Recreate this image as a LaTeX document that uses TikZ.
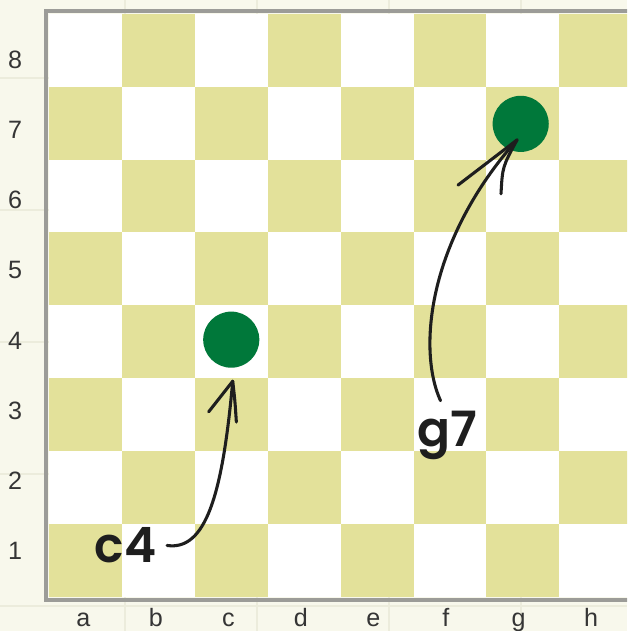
\documentclass[tikz,border=0pt]{standalone}
\usepackage{fontspec}
\setmainfont{Liberation Sans}
\newfontfamily\handfont{Poppins}[BoldFont={Poppins SemiBold}]
\usetikzlibrary{calc}
\definecolor{paper}{HTML}{F8F8EC}
\definecolor{paperline}{HTML}{ECECDC}
\definecolor{darksq}{HTML}{E3E19A}
\definecolor{lightsq}{HTML}{FFFFFF}
\definecolor{rim}{HTML}{9C9C98}
\definecolor{stone}{HTML}{00783A}
\definecolor{ink}{HTML}{1E1E1E}
\tikzset{
  sq/.style={fill=#1,draw=none},
  piece/.style={circle,fill=stone,minimum size=0.77cm,inner sep=0pt},
  coordlbl/.style={font=\fontsize{9.8}{11}\selectfont,text=ink!90,anchor=base,inner sep=0pt},
  hand/.style={font=\handfont\bfseries\fontsize{19}{20}\selectfont,text=ink,inner sep=4pt,anchor=base},
  pen/.style={draw=ink,line width=1.2pt,line cap=round,line join=round},
}

\begin{document}
\begin{tikzpicture}
  \useasboundingbox (-0.672,-0.466) rectangle (7.929,8.189);
  \clip (-0.672,-0.466) rectangle (7.929,8.189);
  \fill[paper] (-0.672,-0.466) rectangle (7.929,8.189);
  % faint paper grid
  \foreach \x in {-0.768,1.043,2.854,4.665,6.476}
    \draw[paperline,line width=0.5pt] (\x,-0.466) -- (\x,8.189);
  \foreach \y in {-0.123,1.688,3.499,5.310,7.121}
    \draw[paperline,line width=0.5pt] (-0.672,\y) -- (7.929,\y);
  % board
  \foreach \i in {0,...,7}
    \foreach \j in {0,...,7}{
      \pgfmathparse{int(mod(\i+\j,2))}
      \ifnum\pgfmathresult=0
        \fill[sq=darksq] (\i,\j) rectangle ++(1,1);
      \else
        \fill[sq=lightsq] (\i,\j) rectangle ++(1,1);
      \fi
    }
  \draw[rim,line width=1.6pt] (-0.035,-0.035) rectangle (8.035,8.035);
  % rank and file labels
  \foreach \r in {1,...,8}
    \node[coordlbl] (rank\r) at (-0.466,{0.508+(\r-1)*0.964}) {\r};
  \foreach \f [count=\k from 0] in {a,...,h}
    \node[coordlbl] (file\f) at ({0.47+\k*0.995},-0.41) {\f};
  % pieces
  \node[piece] (c4) at (2.5,3.53) {};
  \node[piece] (g7) at (6.47,6.49) {};
  \node[hand] (c4lbl) at (1.05,0.47) {c4};
  \node[hand] (g7lbl) at (5.47,2.06) {g7};
  \coordinate (c4tip) at (2.52,2.96);
  \coordinate (g7tip) at (6.42,6.27);
  % hand-drawn arrows
  \draw[pen] (c4lbl.east) .. controls (2.15,0.63) and (2.38,1.4) .. (c4tip);
  \draw[pen] (c4tip) -- ++(-0.33,-0.42);
  \draw[pen] (c4tip) .. controls (2.55,2.7) .. (2.57,2.4);
  \draw[pen] ([xshift=-0.1cm]g7lbl.north) .. controls (5.05,3.4) and (5.2,4.9) .. (g7tip);
  \draw[pen] (g7tip) -- ++(-0.81,-0.62);
  \draw[pen] (g7tip) .. controls (6.22,5.9) .. (6.2,5.53);
\end{tikzpicture}
\end{document}
